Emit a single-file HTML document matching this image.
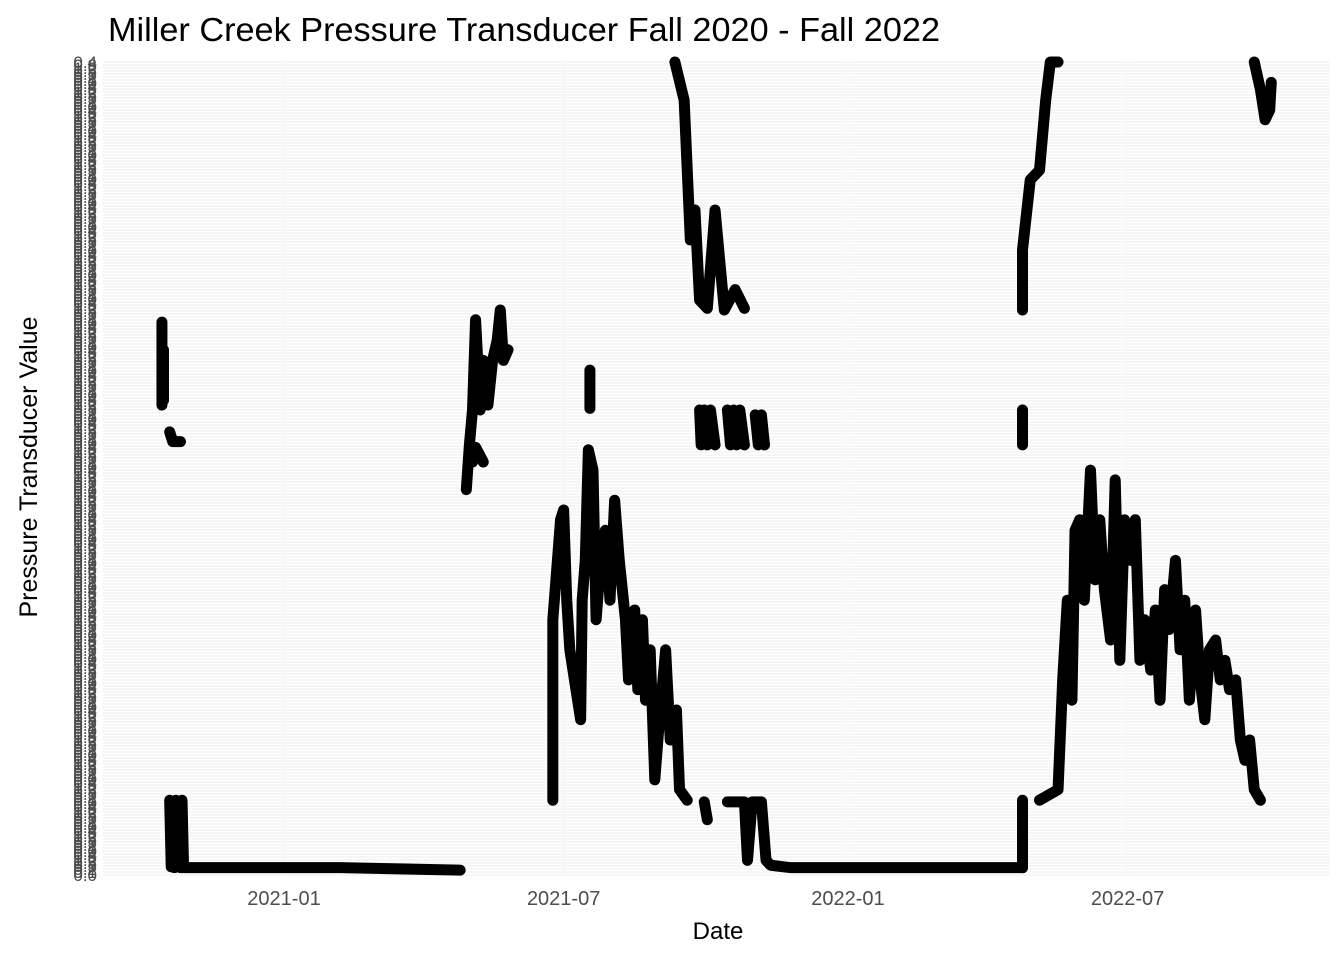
<!DOCTYPE html>
<html><head><meta charset="utf-8"><style>
body{margin:0;background:#fff;font-family:"Liberation Sans",Arial,sans-serif}
svg text{font-family:"Liberation Sans",Arial,sans-serif}
</style></head><body>
<svg id="chart" width="1344" height="960" viewBox="0 0 1344 960" xmlns="http://www.w3.org/2000/svg">
<rect width="1344" height="960" fill="#fff"/>
<text x="108" y="41" font-size="33" textLength="832" lengthAdjust="spacingAndGlyphs" fill="#000">Miller Creek Pressure Transducer Fall 2020 - Fall 2022</text>
<g id="grid"></g>
<g id="ylabels"></g>
<g id="marks"></g>
<g id="xaxis"></g>
<text x="718" y="939" font-size="24" text-anchor="middle" fill="#000">Date</text>
<text transform="translate(37,467) rotate(-90)" font-size="25" text-anchor="middle" fill="#000">Pressure Transducer Value</text>
</svg>
<script>
// x data: days since 2021-01-01; y data: relative value 0..100
const xTickLabels = ["2021-01","2021-07","2022-01","2022-07"];
const xTickDays = [0, 181, 365, 546];
const segDays = [
 [-79,-79,-78,-78],
 [-74,-72,-67],
 [-74,-73,-72,-71,-70,-69,-68,-67,-66,-65,36,114],
 [118,120,122,124,127,129,132,135,138,140,142,145],
 [120,122,124,129],
 [174,174,176,179,181,183,185,188,192,193,195,197,200,202,205,208,211,214,217,221,223,227,229,232,234,237,240,243,247,250,254,256,261],
 [198,198],
 [253,259,263,266,269,274,279,282,285,292,298],
 [269,270,272,274,276,279],
 [287,289,291,293,295,298],
 [305,307,309,311],
 [272,274],
 [287,295,298,300,303,307,309,312,315,328,334,478],
 [478,478],
 [478,478],
 [478,478,483,489,493,496,501],
 [489,501,504,507,510,512,515,518,522,525,528,531,535,538,541,544,548,551,554,557,561,564,567,570,573,577,580,583,586,590,593,596,599,603,606,609,612,616,619,622,625,628,632],
 [628,632,635,638,639]
];
const segVals = [
 [68,57.8,64.6,58.4],
 [54.5,53.3,53.3],
 [9.2,1,9,0.9,9.2,1,9,0.9,9.2,0.9,0.9,0.6],
 [47.4,52.9,57.2,68.3,57.2,63.3,57.8,63.3,65.8,69.5,63.3,64.6],
 [52.6,50.8,52.6,50.8],
 [9.2,31.4,36.3,43.7,44.9,33.8,27.7,24,19.1,33.8,38.7,52.3,49.8,31.4,38.7,42.4,33.8,46.1,38.7,31.4,24,32.6,22.8,31.4,21.5,27.7,11.7,19.1,27.7,16.6,20.3,10.5,9.2],
 [62.1,57.4],
 [100,95.3,78.1,81.8,70.7,69.7,81.8,75.6,69.5,72,69.7],
 [57.2,52.9,57.2,52.9,57.2,52.9],
 [57.2,52.9,57.2,52.9,57.2,52.9],
 [56.6,52.9,56.6,52.9],
 [9,6.8],
 [9,9,9,1.8,9,9,9,1.8,1.2,0.9,0.9,0.9],
 [0.9,9.2],
 [52.9,57.2],
 [69.5,76.9,85.5,86.7,95.3,100,100],
 [9.2,10.5,24,33.8,21.5,42.4,43.7,33.8,49.8,36.3,43.7,35.1,28.9,48.6,26.4,43.7,38.7,43.7,26.4,31.4,25.2,32.6,21.5,35.1,30.2,38.7,27.7,33.8,21.5,32.6,24,19.1,27.7,28.9,24,26.4,22.8,24,16.6,14.1,16.6,10.5,9.2],
 [100,96.6,92.9,94.1,97.5]
];
const NS="http://www.w3.org/2000/svg";
const X0=103,X1=1330,Y0=62,Y1=875;
function xScale(d){return 284+d*1.545;}
function yScale(v){return Y1-v/100*(Y1-Y0);}
const grid=document.getElementById('grid');
for(let y=Y1;y>=Y0;y-=3){
 const l=document.createElementNS(NS,'line');
 
 
 l.setAttribute('x1',X0);l.setAttribute('x2',X1);l.setAttribute('y1',y);l.setAttribute('y2',y);
 l.setAttribute('stroke','#e6e6e6');l.setAttribute('stroke-width','0.8');grid.appendChild(l);
}
const xa=document.getElementById('xaxis');
xTickDays.forEach((d,i)=>{
 const l=document.createElementNS(NS,'line');
 
 
 const x=xScale(d);
 l.setAttribute('x1',x);l.setAttribute('x2',x);l.setAttribute('y1',Y0);l.setAttribute('y2',Y1);
 l.setAttribute('stroke','#f7f7f7');l.setAttribute('stroke-width','2');grid.appendChild(l);
 const t=document.createElementNS(NS,'text');
 
 
 t.setAttribute('x',x);t.setAttribute('y',905);t.setAttribute('text-anchor','middle');
 t.setAttribute('font-size','20');t.setAttribute('fill','#4d4d4d');t.textContent=xTickLabels[i];xa.appendChild(t);
});
const yl=document.getElementById('ylabels');
const glyphs=["0.0","0.1","0.2","0.3","0.5","1.2","0.8","0.4"];
for(let i=0,y=Y1+6;y>=Y0+6;y-=3,i++){
 const t=document.createElementNS(NS,'text');
 
 
 t.setAttribute('x',97);t.setAttribute('y',y);t.setAttribute('text-anchor','end');
 t.setAttribute('font-size','17');t.setAttribute('fill','#4d4d4d');t.textContent=glyphs[i%glyphs.length];yl.appendChild(t);
}
const marks=document.getElementById('marks');
segDays.forEach((ds,si)=>{
 const vs=segVals[si];
 const pts=ds.map((d,i)=>xScale(d)+','+yScale(vs[i])).join(' ');
 const p=document.createElementNS(NS,'polyline');
 
 
 p.setAttribute('points',pts);p.setAttribute('fill','none');p.setAttribute('stroke','#000');
 p.setAttribute('stroke-width','11');p.setAttribute('stroke-linejoin','round');p.setAttribute('stroke-linecap','round');
 marks.appendChild(p);
});
</script>
</body></html>
